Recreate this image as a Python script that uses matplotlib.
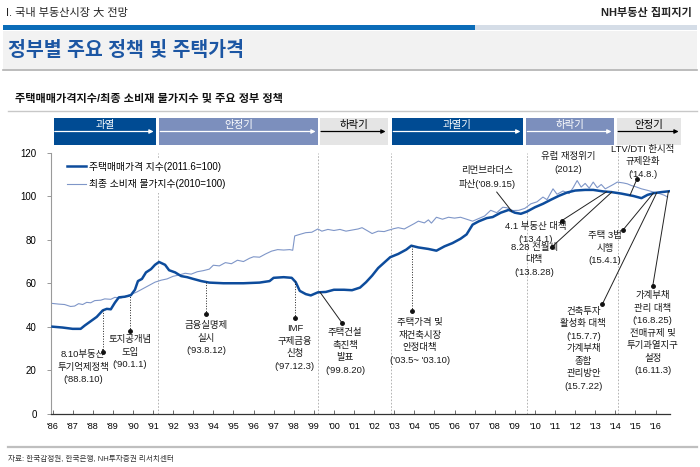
import matplotlib
matplotlib.use("Agg")
import matplotlib.pyplot as plt
import matplotlib.transforms as mtransforms
from matplotlib.patches import Rectangle
from matplotlib.lines import Line2D
import numpy as np

plt.rcParams['font.family'] = ['Liberation Sans', 'Noto Sans CJK KR']

# ---------- data ----------
# 주택매매가격 지수 (2011.6=100)
hpi_x = [1986.0, 1986.5, 1987.0, 1987.4, 1987.6, 1987.9, 1988.2, 1988.5, 1988.7, 1988.9,
         1989.1, 1989.3, 1989.6, 1989.9, 1990.1, 1990.25, 1990.45, 1990.65, 1990.9, 1991.1,
         1991.3, 1991.6, 1991.8, 1992.1, 1992.4, 1992.7, 1993.0, 1993.4, 1993.8, 1994.5,
         1995.5, 1996.3, 1996.8, 1997.0, 1997.5, 1997.9, 1998.1, 1998.3, 1998.6, 1998.85,
         1999.2, 1999.6, 2000.0, 2000.5, 2000.9, 2001.3, 2001.6, 2001.9, 2002.2, 2002.5,
         2002.8, 2003.2, 2003.6, 2003.85, 2004.2, 2004.7, 2005.1, 2005.5, 2005.9, 2006.3,
         2006.6, 2006.9, 2007.2, 2007.6, 2007.9, 2008.3, 2008.7, 2009.0, 2009.3, 2009.6,
         2010.0, 2010.4, 2010.8, 2011.2, 2011.6, 2012.0, 2012.5, 2012.9, 2013.4, 2013.8,
         2014.3, 2014.9, 2015.3, 2015.6, 2015.9, 2016.3, 2016.7]
hpi_y = [40.0, 39.6, 39.0, 39.0, 40.5, 42.5, 44.5, 47.5, 48.2, 48.0,
         51.0, 53.5, 53.8, 54.5, 57.0, 61.0, 62.0, 65.0, 66.5, 68.5,
         69.8, 68.5, 66.0, 65.0, 63.3, 62.8, 62.0, 61.0, 60.3, 60.0,
         60.0, 60.3, 61.0, 62.5, 62.8, 62.5, 60.5, 56.5, 55.0, 54.4,
         55.8, 56.0, 57.0, 57.0, 56.8, 58.0, 60.5, 63.5, 67.0, 69.5,
         72.0, 73.5, 75.5, 77.3, 76.5, 75.8, 75.0, 77.0, 78.5, 80.5,
         82.5, 87.0, 88.5, 90.0, 90.5, 92.5, 93.8, 92.5, 92.0, 93.0,
         95.0, 96.6, 98.5, 100.3, 101.8, 102.7, 103.0, 103.0, 102.3, 102.0,
         101.3, 100.2, 99.2, 100.7, 101.5, 102.0, 102.4]

# 최종 소비재 물가지수 (2010=100)
cpi_x = [1986.0, 1986.3, 1986.6, 1986.9, 1987.1, 1987.3, 1987.5, 1987.7, 1987.9, 1988.1,
         1988.4, 1988.6, 1988.9, 1989.1, 1989.4, 1989.7, 1989.9, 1990.2, 1990.5, 1990.8,
         1991.1, 1991.4, 1991.7, 1992.0, 1992.3, 1992.6, 1992.9, 1993.2, 1993.5, 1993.8,
         1994.0, 1994.3, 1994.6, 1994.9, 1995.2, 1995.5, 1995.8, 1996.0, 1996.3, 1996.6,
         1996.9, 1997.2, 1997.5, 1997.8, 1997.95, 1998.05, 1998.3, 1998.6, 1998.9, 1999.2,
         1999.4, 1999.7, 2000.0, 2000.3, 2000.6, 2000.9, 2001.2, 2001.4, 2001.7, 2001.9,
         2002.2, 2002.5, 2002.7, 2003.0, 2003.2, 2003.5, 2003.8, 2004.0, 2004.2, 2004.5,
         2004.7, 2004.85, 2005.1, 2005.4, 2005.7, 2006.0, 2006.3, 2006.6, 2006.9, 2007.2,
         2007.5, 2007.8, 2008.1, 2008.4, 2008.6, 2008.9, 2009.2, 2009.5, 2009.8, 2010.1,
         2010.4, 2010.6, 2010.9, 2011.1, 2011.4, 2011.7, 2011.9, 2012.1, 2012.3, 2012.5,
         2012.7, 2012.9, 2013.1, 2013.3, 2013.5, 2013.7, 2013.9, 2014.1, 2014.4, 2014.6,
         2014.8, 2015.0, 2015.3, 2015.6, 2015.9, 2016.2, 2016.45, 2016.6]
cpi_y = [50.7, 50.4, 50.2, 49.3, 49.5, 50.6, 50.2, 51.2, 51.0, 52.0,
         52.2, 52.8, 52.6, 53.5, 53.2, 54.2, 54.8, 56.0, 57.5, 59.0,
         60.5, 61.4, 62.0, 63.2, 63.8, 64.6, 64.2, 65.3, 65.8, 66.5,
         68.3, 68.0, 69.5, 69.0, 70.6, 70.0, 71.5, 72.2, 72.0, 73.5,
         74.8, 75.5, 75.3, 75.5, 75.2, 81.8, 82.5, 83.3, 83.5, 85.0,
         84.0, 84.8, 84.3, 84.8, 84.0, 84.5, 85.0, 85.6, 84.0, 82.9,
         84.0, 83.8, 84.4, 85.2, 85.6, 85.0, 86.5, 87.5, 88.6, 87.8,
         89.2, 87.7, 90.4, 89.5, 90.4, 90.0, 90.4, 89.5, 88.6, 89.8,
         91.0, 93.6, 92.5, 95.0, 94.8, 93.5, 93.6, 94.5, 96.6, 97.5,
         99.7, 98.5, 103.5, 101.0, 102.5, 101.3, 104.0, 107.3, 104.3, 106.0,
         103.8, 106.6, 104.0, 105.5, 103.5, 104.5, 105.5, 106.6, 106.2, 105.8,
         105.0, 104.5, 103.5, 102.8, 102.0, 101.3, 100.5, 99.7]

years = list(range(1986, 2017))
year_labels = ["'%02d" % (y % 100) for y in years]

# 시장 국면 (start, end, label, kind)
phase_start = [1986.05, 1991.3, 1999.3, 2002.89, 2009.56, 2014.08]
phase_end = [1991.15, 1999.21, 2002.69, 2009.4, 2013.93, 2017.27]
phase_label = ['과열', '안정기', '하락기', '과열기', '하락기', '안정기']
phase_kind = ['hot', 'stable', 'down', 'hot', 'stable', 'down']

# 정권 구분선
regime_x = [1991.26, 1999.21, 2002.82, 2009.59, 2014.13]

# 정책 주석
ann_text = [
    "8.10부동산\n투기억제정책\n('88.8.10)",
    "토지공개념\n도입\n('90.1.1)",
    "금융실명제\n실시\n('93.8.12)",
    "IMF\n구제금융\n신청\n('97.12.3)",
    "주택건설\n촉진책\n발표\n('99.8.20)",
    "주택가격 및\n재건축시장\n안정대책\n('03.5~ '03.10)",
    "리먼브라더스\n파산('08.9.15)",
    "유럽 재정위기\n(2012)",
    "LTV/DTI 한시적\n규제완화\n('14.8.)",
    "4.1 부동산 대책\n('13.4.1)",
    "8.28 전월세\n대책\n('13.8.28)",
    "주택 3법\n시행\n(15.4.1)",
    "건축투자\n활성화 대책\n('15.7.7)\n가계부채\n종합\n관리방안\n(15.7.22)",
    "가계부채\n관리 대책\n('16.8.25)\n전매규제 및\n투기과열지구\n설정\n(16.11.3)",
]
ann_tx = [1987.52, 1989.86, 1993.64, 1998.06, 2000.55, 2004.28, 2007.63, 2011.65,
          2015.38, 2010.05, 2009.96, 2013.49, 2012.41, 2015.86]
ann_ty = [21.4, 28.3, 34.7, 30.3, 28.5, 33.2, 108.5, 115.3,
          116.0, 83.2, 70.8, 76.2, 29.8, 36.9]
ann_dx = [1988.51, 1989.86, 1993.64, 1998.06, 2000.39, 2003.87, 2008.1, None,
          2015.08, 2011.33, 2010.84, 2014.37, 2013.35, 2015.86]
ann_dy = [28.3, 37.9, 45.7, 43.9, 41.9, 47.3, 102.0, None,
          108.1, 88.8, 76.7, 84.4, 50.3, 58.6]
ann_cx = [1988.51, 1989.86, 1993.64, 1998.06, 1999.31, 2003.87, 2008.85, None,
          2014.73, 2013.57, 2013.82, 2015.89, 2016.06, 2016.64]
ann_dot = [True, True, True, True, True, True, False, False,
           True, True, True, True, True, True]
ann_dotted = [True, True, True, True, False, True, False, False,
              False, False, False, False, False, False]

# ---------- figure ----------
W, H = 700, 467
fig = plt.figure(figsize=(7, 4.67), dpi=100)


def fx(px):
    return px / W


def fy(py):
    return 1 - py / H


# header
fig.text(fx(6), fy(13), "I. 국내 부동산시장 大 전망", fontsize=8, va='center', ha='left', color='#222222')
fig.text(fx(692), fy(13), "NH부동산 집피지기", fontsize=8, va='center', ha='right', color='#222222',
         fontweight='bold')
fig.add_artist(Rectangle((fx(3), fy(30)), fx(475) - fx(3), fy(25) - fy(30), transform=fig.transFigure,
                         facecolor='#0b6cb8', edgecolor='none'))
fig.add_artist(Rectangle((fx(475), fy(30)), fx(697) - fx(475), fy(25) - fy(30), transform=fig.transFigure,
                         facecolor='#d5dde7', edgecolor='none'))
fig.add_artist(Rectangle((fx(3), fy(69)), fx(697) - fx(3), fy(31) - fy(69), transform=fig.transFigure,
                         facecolor='#f2f2f2', edgecolor='none'))
fig.add_artist(Line2D([fx(3), fx(697)], [fy(69.5), fy(69.5)], transform=fig.transFigure,
                      color='#b0b0b0', lw=1.2))
fig.text(fx(8), fy(50), "정부별 주요 정책 및 주택가격", fontsize=14, fontweight='bold',
         color='#1c56a3', va='center', ha='left')

# subtitle
fig.text(fx(15), fy(99), "주택매매가격지수/최종 소비재 물가지수 및 주요 정부 정책", fontsize=8,
         fontweight='bold', va='center', ha='left', color='#111111')
fig.add_artist(Line2D([fx(8), fx(697)], [fy(111), fy(111)], transform=fig.transFigure,
                      color='#c8c8c8', lw=1.0))

# footer
fig.add_artist(Line2D([fx(8), fx(697)], [fy(447), fy(447)], transform=fig.transFigure,
                      color='#bfbfbf', lw=1.6))
fig.text(fx(8), fy(460), "자료: 한국감정원, 한국은행, NH투자증권 리서치센터", fontsize=5.5,
         va='center', ha='left', color='#333333')

# ---------- main axes ----------
ax = fig.add_axes([fx(50.5), fy(413.5), fx(670) - fx(50.5), fy(153) - fy(413.5)])
ax.set_xlim(1985.9, 2016.72)
ax.set_ylim(0, 120)

for x in regime_x:
    ax.axvline(x, color='#a8a8a8', ls=(0, (2, 2)), lw=0.6, zorder=1)

ax.plot(cpi_x, cpi_y, color='#7f96c8', lw=0.8, zorder=3, label='최종 소비재 물가지수(2010=100)')
ax.plot(hpi_x, hpi_y, color='#0d4c9c', lw=1.8, zorder=4, label='주택매매가격 지수(2011.6=100)')

h, l = ax.get_legend_handles_labels()
leg = ax.legend(h[::-1], l[::-1], loc='upper left', bbox_to_anchor=(0.012, 1.0), fontsize=7,
                frameon=True, facecolor='white', edgecolor='none', framealpha=1,
                handlelength=2.0, handletextpad=0.3, labelspacing=0.75, borderpad=0.4)
leg.set_zorder(5)

ax.set_xticks(years)
ax.set_xticklabels(year_labels)
ax.set_yticks(range(0, 121, 20))
ax.tick_params(axis='x', direction='in', length=3, width=0.6, color='#555555', labelsize=6.5, pad=6)
ax.tick_params(axis='y', direction='out', length=3, width=0.6, color='#888888', labelsize=7, pad=7)
for s in ['top', 'right']:
    ax.spines[s].set_visible(False)
ax.spines['left'].set_color('#9a9a9a')
ax.spines['left'].set_linewidth(0.8)
ax.spines['bottom'].set_color('#333333')
ax.spines['bottom'].set_linewidth(0.9)

# phase boxes above the plot
trans = mtransforms.blended_transform_factory(ax.transData, fig.transFigure)
box_face = {'hot': '#004b93', 'stable': '#7c8fbd', 'down': '#e5e5e5'}
box_ink = {'hot': 'white', 'stable': 'white', 'down': 'black'}
for x0, x1, lab, kind in zip(phase_start, phase_end, phase_label, phase_kind):
    ax.add_patch(Rectangle((x0, fy(145)), x1 - x0, fy(118) - fy(145), transform=trans,
                           facecolor=box_face[kind], edgecolor='none', clip_on=False))
    ax.annotate('', xy=(x1 - 0.12, fy(131.5)), xytext=(x0 + 0.06, fy(131.5)),
                xycoords=trans, textcoords=trans, annotation_clip=False,
                arrowprops=dict(arrowstyle='-|>', color=box_ink[kind], lw=0.9,
                                mutation_scale=6, shrinkA=0, shrinkB=0))
    ax.text((x0 + x1) / 2, fy(125), lab, transform=trans, ha='center', va='center',
            fontsize=7.5, color=box_ink[kind], clip_on=False)

# policy annotations
for i, txt in enumerate(ann_text):
    ax.text(ann_tx[i], ann_ty[i], txt, ha='center', va='center', fontsize=6.8,
            linespacing=1.5, color='#1a1a1a', zorder=6)
    if ann_cx[i] is None:
        continue
    cy = np.interp(ann_cx[i], hpi_x, hpi_y)
    ls = ':' if ann_dotted[i] else '-'
    ax.plot([ann_dx[i], ann_cx[i]], [ann_dy[i], cy], color='#222222', lw=0.7, ls=ls, zorder=5)
    if ann_dot[i]:
        ax.plot(ann_dx[i], ann_dy[i], 'o', color='#111111', ms=2.5, zorder=6)

fig.savefig('out.png', dpi=100)
